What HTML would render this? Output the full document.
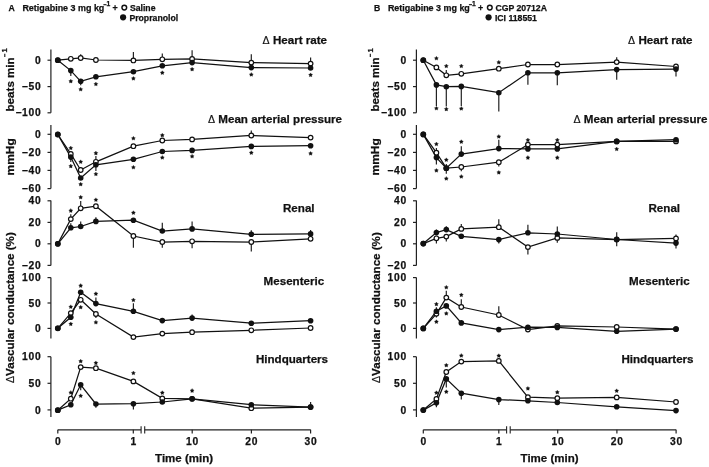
<!DOCTYPE html>
<html><head><meta charset="utf-8"><style>
html,body{margin:0;padding:0;background:#fff;width:709px;height:467px;overflow:hidden}
svg{display:block;will-change:transform}
text{font-family:"Liberation Sans", sans-serif;font-weight:bold;fill:#111;stroke:#111;stroke-width:0.25px}
</style></head><body>
<svg width="709" height="467" viewBox="0 0 709 467">
<rect width="709" height="467" fill="#fff"/>
<text x="8.50" y="10.80" font-size="8.7" text-anchor="start" >A</text>
<text x="22.40" y="10.80" font-size="8.95" text-anchor="start" >Retigabine 3 mg kg</text>
<line x1="103.40" y1="4.7" x2="106.50" y2="4.7" stroke="#111" stroke-width="1.1"/>
<text x="106.60" y="5.60" font-size="6.7" text-anchor="start" >1</text>
<text x="112.60" y="10.80" font-size="8.9" text-anchor="start" >+</text>
<circle cx="124.30" cy="7.6" r="2.35" fill="#fff" stroke="#111" stroke-width="1.45"/>
<text x="129.90" y="10.60" font-size="8.7" text-anchor="start" >Saline</text>
<circle cx="123.10" cy="17.3" r="3.1" fill="#111"/>
<text x="129.40" y="20.50" font-size="8.7" text-anchor="start" >Propranolol</text>
<line x1="50.90" y1="49.4" x2="50.90" y2="112.8" stroke="#222" stroke-width="1.2"/>
<line x1="47.50" y1="60.2" x2="50.90" y2="60.2" stroke="#222" stroke-width="1.2"/>
<text x="41.40" y="63.80" font-size="10.3" text-anchor="end" letter-spacing="0.7">0</text>
<line x1="47.50" y1="86.6" x2="50.90" y2="86.6" stroke="#222" stroke-width="1.2"/>
<text x="41.40" y="90.20" font-size="10.3" text-anchor="end" letter-spacing="0.7">−50</text>
<line x1="47.50" y1="112.8" x2="50.90" y2="112.8" stroke="#222" stroke-width="1.2"/>
<text x="41.40" y="116.40" font-size="10.3" text-anchor="end" letter-spacing="0.7">−100</text>
<line x1="50.90" y1="125.0" x2="50.90" y2="188.6" stroke="#222" stroke-width="1.2"/>
<line x1="47.50" y1="134.3" x2="50.90" y2="134.3" stroke="#222" stroke-width="1.2"/>
<text x="41.40" y="137.90" font-size="10.3" text-anchor="end" letter-spacing="0.7">0</text>
<line x1="47.50" y1="152.4" x2="50.90" y2="152.4" stroke="#222" stroke-width="1.2"/>
<text x="41.40" y="156.00" font-size="10.3" text-anchor="end" letter-spacing="0.7">−20</text>
<line x1="47.50" y1="170.4" x2="50.90" y2="170.4" stroke="#222" stroke-width="1.2"/>
<text x="41.40" y="174.00" font-size="10.3" text-anchor="end" letter-spacing="0.7">−40</text>
<line x1="47.50" y1="188.6" x2="50.90" y2="188.6" stroke="#222" stroke-width="1.2"/>
<text x="41.40" y="192.20" font-size="10.3" text-anchor="end" letter-spacing="0.7">−60</text>
<line x1="50.90" y1="200.6" x2="50.90" y2="265.4" stroke="#222" stroke-width="1.2"/>
<line x1="47.50" y1="200.8" x2="50.90" y2="200.8" stroke="#222" stroke-width="1.2"/>
<text x="41.40" y="204.40" font-size="10.3" text-anchor="end" letter-spacing="0.7">40</text>
<line x1="47.50" y1="222.4" x2="50.90" y2="222.4" stroke="#222" stroke-width="1.2"/>
<text x="41.40" y="226.00" font-size="10.3" text-anchor="end" letter-spacing="0.7">20</text>
<line x1="47.50" y1="243.8" x2="50.90" y2="243.8" stroke="#222" stroke-width="1.2"/>
<text x="41.40" y="247.40" font-size="10.3" text-anchor="end" letter-spacing="0.7">0</text>
<line x1="47.50" y1="265.4" x2="50.90" y2="265.4" stroke="#222" stroke-width="1.2"/>
<text x="41.40" y="269.00" font-size="10.3" text-anchor="end" letter-spacing="0.7">−20</text>
<line x1="50.90" y1="277.6" x2="50.90" y2="338.4" stroke="#222" stroke-width="1.2"/>
<line x1="47.50" y1="277.6" x2="50.90" y2="277.6" stroke="#222" stroke-width="1.2"/>
<text x="41.40" y="281.20" font-size="10.3" text-anchor="end" letter-spacing="0.7">100</text>
<line x1="47.50" y1="303.0" x2="50.90" y2="303.0" stroke="#222" stroke-width="1.2"/>
<text x="41.40" y="306.60" font-size="10.3" text-anchor="end" letter-spacing="0.7">50</text>
<line x1="47.50" y1="328.4" x2="50.90" y2="328.4" stroke="#222" stroke-width="1.2"/>
<text x="41.40" y="332.00" font-size="10.3" text-anchor="end" letter-spacing="0.7">0</text>
<line x1="50.90" y1="356.7" x2="50.90" y2="417.1" stroke="#222" stroke-width="1.2"/>
<line x1="47.50" y1="356.7" x2="50.90" y2="356.7" stroke="#222" stroke-width="1.2"/>
<text x="41.40" y="360.30" font-size="10.3" text-anchor="end" letter-spacing="0.7">100</text>
<line x1="47.50" y1="383.3" x2="50.90" y2="383.3" stroke="#222" stroke-width="1.2"/>
<text x="41.40" y="386.90" font-size="10.3" text-anchor="end" letter-spacing="0.7">50</text>
<line x1="47.50" y1="409.9" x2="50.90" y2="409.9" stroke="#222" stroke-width="1.2"/>
<text x="41.40" y="413.50" font-size="10.3" text-anchor="end" letter-spacing="0.7">0</text>
<text x="262.60" y="44.00" font-size="11.6" text-anchor="start" ><tspan font-weight="normal" font-size="10.6" stroke-width="0.2">Δ</tspan> Heart rate</text>
<text x="208.00" y="123.20" font-size="11.6" text-anchor="start" ><tspan font-weight="normal" font-size="10.6" stroke-width="0.2">Δ</tspan> Mean arterial pressure</text>
<text x="283.00" y="211.60" font-size="11.6" text-anchor="start" >Renal</text>
<text x="263.60" y="285.40" font-size="11.6" text-anchor="start" >Mesenteric</text>
<text x="255.90" y="363.10" font-size="11.6" text-anchor="start" >Hindquarters</text>
<text transform="translate(13.80,84.4) rotate(-90)" font-size="11.6" text-anchor="middle">beats min</text>
<line x1="4.80" y1="53.7" x2="4.80" y2="56.9" stroke="#111" stroke-width="1.1"/>
<text transform="translate(7.00,52.6) rotate(-90)" font-size="7.6">1</text>
<text transform="translate(13.50,156.8) rotate(-90) scale(1.1,1)" font-size="10.9" text-anchor="middle">mmHg</text>
<text transform="translate(14.40,307.6) rotate(-90)" font-size="11.6" text-anchor="middle"><tspan font-weight="normal" font-size="10.6" stroke-width="0.2">Δ</tspan>Vascular conductance (%)</text>
<line x1="57.80" y1="429.8" x2="141.10" y2="429.8" stroke="#222" stroke-width="1.2"/>
<line x1="144.70" y1="429.8" x2="310.70" y2="429.8" stroke="#222" stroke-width="1.2"/>
<line x1="141.10" y1="426.3" x2="141.10" y2="433.6" stroke="#222" stroke-width="1.1"/>
<line x1="144.70" y1="426.3" x2="144.70" y2="433.6" stroke="#222" stroke-width="1.1"/>
<line x1="57.80" y1="429.8" x2="57.80" y2="433.6" stroke="#222" stroke-width="1.2"/>
<text x="58.15" y="444.90" font-size="10.3" text-anchor="middle" letter-spacing="0.7">0</text>
<line x1="133.30" y1="429.8" x2="133.30" y2="433.6" stroke="#222" stroke-width="1.2"/>
<text x="133.65" y="444.90" font-size="10.3" text-anchor="middle" letter-spacing="0.7">1</text>
<line x1="192.20" y1="429.8" x2="192.20" y2="433.6" stroke="#222" stroke-width="1.2"/>
<text x="192.55" y="444.90" font-size="10.3" text-anchor="middle" letter-spacing="0.7">10</text>
<line x1="251.40" y1="429.8" x2="251.40" y2="433.6" stroke="#222" stroke-width="1.2"/>
<text x="251.75" y="444.90" font-size="10.3" text-anchor="middle" letter-spacing="0.7">20</text>
<line x1="310.60" y1="429.8" x2="310.60" y2="433.6" stroke="#222" stroke-width="1.2"/>
<text x="310.95" y="444.90" font-size="10.3" text-anchor="middle" letter-spacing="0.7">30</text>
<text x="155.10" y="462.10" font-size="11.5" text-anchor="start" >Time (min)</text>
<path d="M57.80,60.20 L70.80,58.80 L80.70,58.00 L95.90,60.00 L133.40,60.45 L162.30,59.30 L192.10,59.00 L251.30,62.60 L310.60,63.60" fill="none" stroke="#111" stroke-width="1.25"/>
<path d="M57.80,60.20 L70.80,70.60 L80.70,81.30 L95.90,76.80 L133.40,71.70 L162.30,65.80 L192.10,62.60 L251.30,67.60 L310.60,68.00" fill="none" stroke="#111" stroke-width="1.25"/>
<line x1="80.70" y1="58.00" x2="80.70" y2="54.30" stroke="#222" stroke-width="1.2"/>
<line x1="133.40" y1="60.45" x2="133.40" y2="52.00" stroke="#222" stroke-width="1.2"/>
<line x1="162.30" y1="59.30" x2="162.30" y2="53.40" stroke="#222" stroke-width="1.2"/>
<line x1="192.10" y1="59.00" x2="192.10" y2="50.20" stroke="#222" stroke-width="1.2"/>
<line x1="251.30" y1="62.60" x2="251.30" y2="54.20" stroke="#222" stroke-width="1.2"/>
<line x1="310.60" y1="63.60" x2="310.60" y2="57.40" stroke="#222" stroke-width="1.2"/>
<line x1="70.80" y1="70.60" x2="70.80" y2="76.00" stroke="#222" stroke-width="1.2"/>
<line x1="80.70" y1="81.30" x2="80.70" y2="85.20" stroke="#222" stroke-width="1.2"/>
<circle cx="57.80" cy="60.20" r="2.3" fill="#fff" stroke="#111" stroke-width="1.2"/>
<circle cx="70.80" cy="58.80" r="2.3" fill="#fff" stroke="#111" stroke-width="1.2"/>
<circle cx="80.70" cy="58.00" r="2.3" fill="#fff" stroke="#111" stroke-width="1.2"/>
<circle cx="95.90" cy="60.00" r="2.3" fill="#fff" stroke="#111" stroke-width="1.2"/>
<circle cx="133.40" cy="60.45" r="2.3" fill="#fff" stroke="#111" stroke-width="1.2"/>
<circle cx="162.30" cy="59.30" r="2.3" fill="#fff" stroke="#111" stroke-width="1.2"/>
<circle cx="192.10" cy="59.00" r="2.3" fill="#fff" stroke="#111" stroke-width="1.2"/>
<circle cx="251.30" cy="62.60" r="2.3" fill="#fff" stroke="#111" stroke-width="1.2"/>
<circle cx="310.60" cy="63.60" r="2.3" fill="#fff" stroke="#111" stroke-width="1.2"/>
<circle cx="57.80" cy="60.20" r="2.8" fill="#111"/>
<circle cx="70.80" cy="70.60" r="2.8" fill="#111"/>
<circle cx="80.70" cy="81.30" r="2.8" fill="#111"/>
<circle cx="95.90" cy="76.80" r="2.8" fill="#111"/>
<circle cx="133.40" cy="71.70" r="2.8" fill="#111"/>
<circle cx="162.30" cy="65.80" r="2.8" fill="#111"/>
<circle cx="192.10" cy="62.60" r="2.8" fill="#111"/>
<circle cx="251.30" cy="67.60" r="2.8" fill="#111"/>
<circle cx="310.60" cy="68.00" r="2.8" fill="#111"/>
<polygon points="70.80,79.20 71.49,80.35 72.80,80.65 71.92,81.66 72.03,83.00 70.80,82.48 69.57,83.00 69.68,81.66 68.80,80.65 70.11,80.35" fill="#111" stroke="#111" stroke-width="0.3" stroke-linejoin="round"/>
<polygon points="80.70,87.30 81.39,88.45 82.70,88.75 81.82,89.76 81.93,91.10 80.70,90.58 79.47,91.10 79.58,89.76 78.70,88.75 80.01,88.45" fill="#111" stroke="#111" stroke-width="0.3" stroke-linejoin="round"/>
<polygon points="95.90,82.05 96.59,83.20 97.90,83.50 97.02,84.51 97.13,85.85 95.90,85.33 94.67,85.85 94.78,84.51 93.90,83.50 95.21,83.20" fill="#111" stroke="#111" stroke-width="0.3" stroke-linejoin="round"/>
<polygon points="133.40,76.40 134.09,77.55 135.40,77.85 134.52,78.86 134.63,80.20 133.40,79.68 132.17,80.20 132.28,78.86 131.40,77.85 132.71,77.55" fill="#111" stroke="#111" stroke-width="0.3" stroke-linejoin="round"/>
<polygon points="162.30,70.70 162.99,71.85 164.30,72.15 163.42,73.16 163.53,74.50 162.30,73.98 161.07,74.50 161.18,73.16 160.30,72.15 161.61,71.85" fill="#111" stroke="#111" stroke-width="0.3" stroke-linejoin="round"/>
<polygon points="192.10,67.20 192.79,68.35 194.10,68.65 193.22,69.66 193.33,71.00 192.10,70.48 190.87,71.00 190.98,69.66 190.10,68.65 191.41,68.35" fill="#111" stroke="#111" stroke-width="0.3" stroke-linejoin="round"/>
<polygon points="251.30,72.50 251.99,73.65 253.30,73.95 252.42,74.96 252.53,76.30 251.30,75.78 250.07,76.30 250.18,74.96 249.30,73.95 250.61,73.65" fill="#111" stroke="#111" stroke-width="0.3" stroke-linejoin="round"/>
<polygon points="310.60,72.90 311.29,74.05 312.60,74.35 311.72,75.36 311.83,76.70 310.60,76.18 309.37,76.70 309.48,75.36 308.60,74.35 309.91,74.05" fill="#111" stroke="#111" stroke-width="0.3" stroke-linejoin="round"/>
<path d="M57.80,134.50 L70.80,153.90 L80.70,170.00 L95.90,161.80 L133.40,146.20 L162.30,140.50 L192.10,139.40 L251.30,135.50 L310.60,137.60" fill="none" stroke="#111" stroke-width="1.25"/>
<path d="M57.80,134.50 L70.80,157.10 L80.70,178.00 L95.90,164.80 L133.40,159.30 L162.30,151.50 L192.10,150.40 L251.30,146.40 L310.60,145.70" fill="none" stroke="#111" stroke-width="1.25"/>
<line x1="95.90" y1="161.80" x2="95.90" y2="156.00" stroke="#222" stroke-width="1.2"/>
<line x1="251.30" y1="135.50" x2="251.30" y2="130.60" stroke="#222" stroke-width="1.2"/>
<line x1="70.80" y1="157.10" x2="70.80" y2="162.00" stroke="#222" stroke-width="1.2"/>
<line x1="95.90" y1="164.80" x2="95.90" y2="171.00" stroke="#222" stroke-width="1.2"/>
<circle cx="57.80" cy="134.50" r="2.3" fill="#fff" stroke="#111" stroke-width="1.2"/>
<circle cx="70.80" cy="153.90" r="2.3" fill="#fff" stroke="#111" stroke-width="1.2"/>
<circle cx="80.70" cy="170.00" r="2.3" fill="#fff" stroke="#111" stroke-width="1.2"/>
<circle cx="95.90" cy="161.80" r="2.3" fill="#fff" stroke="#111" stroke-width="1.2"/>
<circle cx="133.40" cy="146.20" r="2.3" fill="#fff" stroke="#111" stroke-width="1.2"/>
<circle cx="162.30" cy="140.50" r="2.3" fill="#fff" stroke="#111" stroke-width="1.2"/>
<circle cx="192.10" cy="139.40" r="2.3" fill="#fff" stroke="#111" stroke-width="1.2"/>
<circle cx="251.30" cy="135.50" r="2.3" fill="#fff" stroke="#111" stroke-width="1.2"/>
<circle cx="310.60" cy="137.60" r="2.3" fill="#fff" stroke="#111" stroke-width="1.2"/>
<circle cx="57.80" cy="134.50" r="2.8" fill="#111"/>
<circle cx="70.80" cy="157.10" r="2.8" fill="#111"/>
<circle cx="80.70" cy="178.00" r="2.8" fill="#111"/>
<circle cx="95.90" cy="164.80" r="2.8" fill="#111"/>
<circle cx="133.40" cy="159.30" r="2.8" fill="#111"/>
<circle cx="162.30" cy="151.50" r="2.8" fill="#111"/>
<circle cx="192.10" cy="150.40" r="2.8" fill="#111"/>
<circle cx="251.30" cy="146.40" r="2.8" fill="#111"/>
<circle cx="310.60" cy="145.70" r="2.8" fill="#111"/>
<polygon points="70.80,146.00 71.49,147.15 72.80,147.45 71.92,148.46 72.03,149.80 70.80,149.28 69.57,149.80 69.68,148.46 68.80,147.45 70.11,147.15" fill="#111" stroke="#111" stroke-width="0.3" stroke-linejoin="round"/>
<polygon points="80.70,159.80 81.39,160.95 82.70,161.25 81.82,162.26 81.93,163.60 80.70,163.08 79.47,163.60 79.58,162.26 78.70,161.25 80.01,160.95" fill="#111" stroke="#111" stroke-width="0.3" stroke-linejoin="round"/>
<polygon points="95.90,151.10 96.59,152.25 97.90,152.55 97.02,153.56 97.13,154.90 95.90,154.38 94.67,154.90 94.78,153.56 93.90,152.55 95.21,152.25" fill="#111" stroke="#111" stroke-width="0.3" stroke-linejoin="round"/>
<polygon points="133.40,136.30 134.09,137.45 135.40,137.75 134.52,138.76 134.63,140.10 133.40,139.58 132.17,140.10 132.28,138.76 131.40,137.75 132.71,137.45" fill="#111" stroke="#111" stroke-width="0.3" stroke-linejoin="round"/>
<polygon points="162.30,133.20 162.99,134.35 164.30,134.65 163.42,135.66 163.53,137.00 162.30,136.48 161.07,137.00 161.18,135.66 160.30,134.65 161.61,134.35" fill="#111" stroke="#111" stroke-width="0.3" stroke-linejoin="round"/>
<polygon points="70.80,164.10 71.49,165.25 72.80,165.55 71.92,166.56 72.03,167.90 70.80,167.38 69.57,167.90 69.68,166.56 68.80,165.55 70.11,165.25" fill="#111" stroke="#111" stroke-width="0.3" stroke-linejoin="round"/>
<polygon points="80.70,182.20 81.39,183.35 82.70,183.65 81.82,184.66 81.93,186.00 80.70,185.48 79.47,186.00 79.58,184.66 78.70,183.65 80.01,183.35" fill="#111" stroke="#111" stroke-width="0.3" stroke-linejoin="round"/>
<polygon points="95.90,172.00 96.59,173.15 97.90,173.45 97.02,174.46 97.13,175.80 95.90,175.28 94.67,175.80 94.78,174.46 93.90,173.45 95.21,173.15" fill="#111" stroke="#111" stroke-width="0.3" stroke-linejoin="round"/>
<polygon points="133.40,165.30 134.09,166.45 135.40,166.75 134.52,167.76 134.63,169.10 133.40,168.58 132.17,169.10 132.28,167.76 131.40,166.75 132.71,166.45" fill="#111" stroke="#111" stroke-width="0.3" stroke-linejoin="round"/>
<polygon points="162.30,155.50 162.99,156.65 164.30,156.95 163.42,157.96 163.53,159.30 162.30,158.78 161.07,159.30 161.18,157.96 160.30,156.95 161.61,156.65" fill="#111" stroke="#111" stroke-width="0.3" stroke-linejoin="round"/>
<polygon points="192.10,154.30 192.79,155.45 194.10,155.75 193.22,156.76 193.33,158.10 192.10,157.58 190.87,158.10 190.98,156.76 190.10,155.75 191.41,155.45" fill="#111" stroke="#111" stroke-width="0.3" stroke-linejoin="round"/>
<polygon points="251.30,150.70 251.99,151.85 253.30,152.15 252.42,153.16 252.53,154.50 251.30,153.98 250.07,154.50 250.18,153.16 249.30,152.15 250.61,151.85" fill="#111" stroke="#111" stroke-width="0.3" stroke-linejoin="round"/>
<polygon points="310.60,151.40 311.29,152.55 312.60,152.85 311.72,153.86 311.83,155.20 310.60,154.68 309.37,155.20 309.48,153.86 308.60,152.85 309.91,152.55" fill="#111" stroke="#111" stroke-width="0.3" stroke-linejoin="round"/>
<path d="M57.80,243.80 L70.80,219.10 L80.70,208.30 L95.90,206.20 L133.40,236.00 L162.30,242.00 L192.10,241.30 L251.30,242.00 L310.60,238.80" fill="none" stroke="#111" stroke-width="1.25"/>
<path d="M57.80,243.80 L70.80,227.80 L80.70,226.50 L95.90,221.40 L133.40,220.20 L162.30,231.00 L192.10,228.90 L251.30,234.30 L310.60,233.90" fill="none" stroke="#111" stroke-width="1.25"/>
<line x1="70.80" y1="219.10" x2="70.80" y2="214.20" stroke="#222" stroke-width="1.2"/>
<line x1="80.70" y1="208.30" x2="80.70" y2="201.00" stroke="#222" stroke-width="1.2"/>
<line x1="133.40" y1="236.00" x2="133.40" y2="247.70" stroke="#222" stroke-width="1.2"/>
<line x1="162.30" y1="242.00" x2="162.30" y2="247.70" stroke="#222" stroke-width="1.2"/>
<line x1="192.10" y1="241.30" x2="192.10" y2="248.20" stroke="#222" stroke-width="1.2"/>
<line x1="251.30" y1="242.00" x2="251.30" y2="251.50" stroke="#222" stroke-width="1.2"/>
<line x1="70.80" y1="227.80" x2="70.80" y2="223.20" stroke="#222" stroke-width="1.2"/>
<line x1="80.70" y1="226.50" x2="80.70" y2="221.40" stroke="#222" stroke-width="1.2"/>
<line x1="95.90" y1="221.40" x2="95.90" y2="217.20" stroke="#222" stroke-width="1.2"/>
<line x1="162.30" y1="231.00" x2="162.30" y2="222.80" stroke="#222" stroke-width="1.2"/>
<line x1="192.10" y1="228.90" x2="192.10" y2="221.40" stroke="#222" stroke-width="1.2"/>
<line x1="251.30" y1="234.30" x2="251.30" y2="230.30" stroke="#222" stroke-width="1.2"/>
<line x1="310.60" y1="233.90" x2="310.60" y2="229.90" stroke="#222" stroke-width="1.2"/>
<circle cx="57.80" cy="243.80" r="2.3" fill="#fff" stroke="#111" stroke-width="1.2"/>
<circle cx="70.80" cy="219.10" r="2.3" fill="#fff" stroke="#111" stroke-width="1.2"/>
<circle cx="80.70" cy="208.30" r="2.3" fill="#fff" stroke="#111" stroke-width="1.2"/>
<circle cx="95.90" cy="206.20" r="2.3" fill="#fff" stroke="#111" stroke-width="1.2"/>
<circle cx="133.40" cy="236.00" r="2.3" fill="#fff" stroke="#111" stroke-width="1.2"/>
<circle cx="162.30" cy="242.00" r="2.3" fill="#fff" stroke="#111" stroke-width="1.2"/>
<circle cx="192.10" cy="241.30" r="2.3" fill="#fff" stroke="#111" stroke-width="1.2"/>
<circle cx="251.30" cy="242.00" r="2.3" fill="#fff" stroke="#111" stroke-width="1.2"/>
<circle cx="310.60" cy="238.80" r="2.3" fill="#fff" stroke="#111" stroke-width="1.2"/>
<circle cx="57.80" cy="243.80" r="2.8" fill="#111"/>
<circle cx="70.80" cy="227.80" r="2.8" fill="#111"/>
<circle cx="80.70" cy="226.50" r="2.8" fill="#111"/>
<circle cx="95.90" cy="221.40" r="2.8" fill="#111"/>
<circle cx="133.40" cy="220.20" r="2.8" fill="#111"/>
<circle cx="162.30" cy="231.00" r="2.8" fill="#111"/>
<circle cx="192.10" cy="228.90" r="2.8" fill="#111"/>
<circle cx="251.30" cy="234.30" r="2.8" fill="#111"/>
<circle cx="310.60" cy="233.90" r="2.8" fill="#111"/>
<polygon points="70.80,208.60 71.49,209.75 72.80,210.05 71.92,211.06 72.03,212.40 70.80,211.88 69.57,212.40 69.68,211.06 68.80,210.05 70.11,209.75" fill="#111" stroke="#111" stroke-width="0.3" stroke-linejoin="round"/>
<polygon points="80.70,195.20 81.39,196.35 82.70,196.65 81.82,197.66 81.93,199.00 80.70,198.48 79.47,199.00 79.58,197.66 78.70,196.65 80.01,196.35" fill="#111" stroke="#111" stroke-width="0.3" stroke-linejoin="round"/>
<polygon points="95.90,197.80 96.59,198.95 97.90,199.25 97.02,200.26 97.13,201.60 95.90,201.08 94.67,201.60 94.78,200.26 93.90,199.25 95.21,198.95" fill="#111" stroke="#111" stroke-width="0.3" stroke-linejoin="round"/>
<polygon points="133.40,210.70 134.09,211.85 135.40,212.15 134.52,213.16 134.63,214.50 133.40,213.98 132.17,214.50 132.28,213.16 131.40,212.15 132.71,211.85" fill="#111" stroke="#111" stroke-width="0.3" stroke-linejoin="round"/>
<path d="M57.80,328.30 L70.80,313.10 L80.70,299.80 L95.90,314.00 L133.40,337.10 L162.30,333.60 L192.10,332.20 L251.30,330.30 L310.60,328.00" fill="none" stroke="#111" stroke-width="1.25"/>
<path d="M57.80,328.30 L70.80,317.30 L80.70,292.30 L95.90,303.60 L133.40,311.30 L162.30,320.60 L192.10,318.10 L251.30,323.20 L310.60,320.70" fill="none" stroke="#111" stroke-width="1.25"/>
<line x1="95.90" y1="314.00" x2="95.90" y2="318.00" stroke="#222" stroke-width="1.2"/>
<line x1="95.90" y1="303.60" x2="95.90" y2="297.40" stroke="#222" stroke-width="1.2"/>
<line x1="133.40" y1="311.30" x2="133.40" y2="303.30" stroke="#222" stroke-width="1.2"/>
<line x1="192.10" y1="318.10" x2="192.10" y2="314.60" stroke="#222" stroke-width="1.2"/>
<circle cx="57.80" cy="328.30" r="2.3" fill="#fff" stroke="#111" stroke-width="1.2"/>
<circle cx="70.80" cy="313.10" r="2.3" fill="#fff" stroke="#111" stroke-width="1.2"/>
<circle cx="80.70" cy="299.80" r="2.3" fill="#fff" stroke="#111" stroke-width="1.2"/>
<circle cx="95.90" cy="314.00" r="2.3" fill="#fff" stroke="#111" stroke-width="1.2"/>
<circle cx="133.40" cy="337.10" r="2.3" fill="#fff" stroke="#111" stroke-width="1.2"/>
<circle cx="162.30" cy="333.60" r="2.3" fill="#fff" stroke="#111" stroke-width="1.2"/>
<circle cx="192.10" cy="332.20" r="2.3" fill="#fff" stroke="#111" stroke-width="1.2"/>
<circle cx="251.30" cy="330.30" r="2.3" fill="#fff" stroke="#111" stroke-width="1.2"/>
<circle cx="310.60" cy="328.00" r="2.3" fill="#fff" stroke="#111" stroke-width="1.2"/>
<circle cx="57.80" cy="328.30" r="2.8" fill="#111"/>
<circle cx="70.80" cy="317.30" r="2.8" fill="#111"/>
<circle cx="80.70" cy="292.30" r="2.8" fill="#111"/>
<circle cx="95.90" cy="303.60" r="2.8" fill="#111"/>
<circle cx="133.40" cy="311.30" r="2.8" fill="#111"/>
<circle cx="162.30" cy="320.60" r="2.8" fill="#111"/>
<circle cx="192.10" cy="318.10" r="2.8" fill="#111"/>
<circle cx="251.30" cy="323.20" r="2.8" fill="#111"/>
<circle cx="310.60" cy="320.70" r="2.8" fill="#111"/>
<polygon points="70.80,304.80 71.49,305.95 72.80,306.25 71.92,307.26 72.03,308.60 70.80,308.08 69.57,308.60 69.68,307.26 68.80,306.25 70.11,305.95" fill="#111" stroke="#111" stroke-width="0.3" stroke-linejoin="round"/>
<polygon points="80.70,305.20 81.39,306.35 82.70,306.65 81.82,307.66 81.93,309.00 80.70,308.48 79.47,309.00 79.58,307.66 78.70,306.65 80.01,306.35" fill="#111" stroke="#111" stroke-width="0.3" stroke-linejoin="round"/>
<polygon points="95.90,320.30 96.59,321.45 97.90,321.75 97.02,322.76 97.13,324.10 95.90,323.58 94.67,324.10 94.78,322.76 93.90,321.75 95.21,321.45" fill="#111" stroke="#111" stroke-width="0.3" stroke-linejoin="round"/>
<polygon points="70.80,321.90 71.49,323.05 72.80,323.35 71.92,324.36 72.03,325.70 70.80,325.18 69.57,325.70 69.68,324.36 68.80,323.35 70.11,323.05" fill="#111" stroke="#111" stroke-width="0.3" stroke-linejoin="round"/>
<polygon points="80.70,283.60 81.39,284.75 82.70,285.05 81.82,286.06 81.93,287.40 80.70,286.88 79.47,287.40 79.58,286.06 78.70,285.05 80.01,284.75" fill="#111" stroke="#111" stroke-width="0.3" stroke-linejoin="round"/>
<polygon points="95.90,291.70 96.59,292.85 97.90,293.15 97.02,294.16 97.13,295.50 95.90,294.98 94.67,295.50 94.78,294.16 93.90,293.15 95.21,292.85" fill="#111" stroke="#111" stroke-width="0.3" stroke-linejoin="round"/>
<polygon points="133.40,298.00 134.09,299.15 135.40,299.45 134.52,300.46 134.63,301.80 133.40,301.28 132.17,301.80 132.28,300.46 131.40,299.45 132.71,299.15" fill="#111" stroke="#111" stroke-width="0.3" stroke-linejoin="round"/>
<path d="M57.80,410.20 L70.80,398.70 L80.70,367.10 L95.90,368.20 L133.40,381.40 L162.30,398.40 L192.10,398.80 L251.30,408.20 L310.60,407.10" fill="none" stroke="#111" stroke-width="1.25"/>
<path d="M57.80,410.20 L70.80,404.80 L80.70,384.80 L95.90,404.00 L133.40,403.70 L162.30,402.00 L192.10,398.80 L251.30,404.70 L310.60,407.10" fill="none" stroke="#111" stroke-width="1.25"/>
<line x1="80.70" y1="384.80" x2="80.70" y2="390.30" stroke="#222" stroke-width="1.2"/>
<line x1="95.90" y1="404.00" x2="95.90" y2="407.70" stroke="#222" stroke-width="1.2"/>
<line x1="133.40" y1="403.70" x2="133.40" y2="409.40" stroke="#222" stroke-width="1.2"/>
<line x1="310.60" y1="407.10" x2="310.60" y2="402.00" stroke="#222" stroke-width="1.2"/>
<circle cx="57.80" cy="410.20" r="2.3" fill="#fff" stroke="#111" stroke-width="1.2"/>
<circle cx="70.80" cy="398.70" r="2.3" fill="#fff" stroke="#111" stroke-width="1.2"/>
<circle cx="80.70" cy="367.10" r="2.3" fill="#fff" stroke="#111" stroke-width="1.2"/>
<circle cx="95.90" cy="368.20" r="2.3" fill="#fff" stroke="#111" stroke-width="1.2"/>
<circle cx="133.40" cy="381.40" r="2.3" fill="#fff" stroke="#111" stroke-width="1.2"/>
<circle cx="162.30" cy="398.40" r="2.3" fill="#fff" stroke="#111" stroke-width="1.2"/>
<circle cx="192.10" cy="398.80" r="2.3" fill="#fff" stroke="#111" stroke-width="1.2"/>
<circle cx="251.30" cy="408.20" r="2.3" fill="#fff" stroke="#111" stroke-width="1.2"/>
<circle cx="310.60" cy="407.10" r="2.3" fill="#fff" stroke="#111" stroke-width="1.2"/>
<circle cx="57.80" cy="410.20" r="2.8" fill="#111"/>
<circle cx="70.80" cy="404.80" r="2.8" fill="#111"/>
<circle cx="80.70" cy="384.80" r="2.8" fill="#111"/>
<circle cx="95.90" cy="404.00" r="2.8" fill="#111"/>
<circle cx="133.40" cy="403.70" r="2.8" fill="#111"/>
<circle cx="162.30" cy="402.00" r="2.8" fill="#111"/>
<circle cx="192.10" cy="398.80" r="2.8" fill="#111"/>
<circle cx="251.30" cy="404.70" r="2.8" fill="#111"/>
<circle cx="310.60" cy="407.10" r="2.8" fill="#111"/>
<polygon points="70.80,390.50 71.49,391.65 72.80,391.95 71.92,392.96 72.03,394.30 70.80,393.78 69.57,394.30 69.68,392.96 68.80,391.95 70.11,391.65" fill="#111" stroke="#111" stroke-width="0.3" stroke-linejoin="round"/>
<polygon points="80.70,359.20 81.39,360.35 82.70,360.65 81.82,361.66 81.93,363.00 80.70,362.48 79.47,363.00 79.58,361.66 78.70,360.65 80.01,360.35" fill="#111" stroke="#111" stroke-width="0.3" stroke-linejoin="round"/>
<polygon points="95.90,360.90 96.59,362.05 97.90,362.35 97.02,363.36 97.13,364.70 95.90,364.18 94.67,364.70 94.78,363.36 93.90,362.35 95.21,362.05" fill="#111" stroke="#111" stroke-width="0.3" stroke-linejoin="round"/>
<polygon points="133.40,371.00 134.09,372.15 135.40,372.45 134.52,373.46 134.63,374.80 133.40,374.28 132.17,374.80 132.28,373.46 131.40,372.45 132.71,372.15" fill="#111" stroke="#111" stroke-width="0.3" stroke-linejoin="round"/>
<polygon points="162.30,390.70 162.99,391.85 164.30,392.15 163.42,393.16 163.53,394.50 162.30,393.98 161.07,394.50 161.18,393.16 160.30,392.15 161.61,391.85" fill="#111" stroke="#111" stroke-width="0.3" stroke-linejoin="round"/>
<polygon points="192.10,388.60 192.79,389.75 194.10,390.05 193.22,391.06 193.33,392.40 192.10,391.88 190.87,392.40 190.98,391.06 190.10,390.05 191.41,389.75" fill="#111" stroke="#111" stroke-width="0.3" stroke-linejoin="round"/>
<polygon points="80.70,393.80 81.39,394.95 82.70,395.25 81.82,396.26 81.93,397.60 80.70,397.08 79.47,397.60 79.58,396.26 78.70,395.25 80.01,394.95" fill="#111" stroke="#111" stroke-width="0.3" stroke-linejoin="round"/>
<text x="374.00" y="10.80" font-size="8.7" text-anchor="start" >B</text>
<text x="387.90" y="10.80" font-size="8.95" text-anchor="start" >Retigabine 3 mg kg</text>
<line x1="468.90" y1="4.7" x2="472.00" y2="4.7" stroke="#111" stroke-width="1.1"/>
<text x="472.10" y="5.60" font-size="6.7" text-anchor="start" >1</text>
<text x="478.10" y="10.80" font-size="8.9" text-anchor="start" >+</text>
<circle cx="489.80" cy="7.6" r="2.35" fill="#fff" stroke="#111" stroke-width="1.45"/>
<text x="495.40" y="10.60" font-size="8.7" text-anchor="start" >CGP 20712A</text>
<circle cx="488.60" cy="17.3" r="3.1" fill="#111"/>
<text x="494.90" y="20.50" font-size="8.7" text-anchor="start" >ICI 118551</text>
<line x1="416.40" y1="49.4" x2="416.40" y2="112.8" stroke="#222" stroke-width="1.2"/>
<line x1="413.00" y1="60.2" x2="416.40" y2="60.2" stroke="#222" stroke-width="1.2"/>
<text x="406.90" y="63.80" font-size="10.3" text-anchor="end" letter-spacing="0.7">0</text>
<line x1="413.00" y1="86.6" x2="416.40" y2="86.6" stroke="#222" stroke-width="1.2"/>
<text x="406.90" y="90.20" font-size="10.3" text-anchor="end" letter-spacing="0.7">−50</text>
<line x1="413.00" y1="112.8" x2="416.40" y2="112.8" stroke="#222" stroke-width="1.2"/>
<text x="406.90" y="116.40" font-size="10.3" text-anchor="end" letter-spacing="0.7">−100</text>
<line x1="416.40" y1="125.0" x2="416.40" y2="188.6" stroke="#222" stroke-width="1.2"/>
<line x1="413.00" y1="134.3" x2="416.40" y2="134.3" stroke="#222" stroke-width="1.2"/>
<text x="406.90" y="137.90" font-size="10.3" text-anchor="end" letter-spacing="0.7">0</text>
<line x1="413.00" y1="152.4" x2="416.40" y2="152.4" stroke="#222" stroke-width="1.2"/>
<text x="406.90" y="156.00" font-size="10.3" text-anchor="end" letter-spacing="0.7">−20</text>
<line x1="413.00" y1="170.4" x2="416.40" y2="170.4" stroke="#222" stroke-width="1.2"/>
<text x="406.90" y="174.00" font-size="10.3" text-anchor="end" letter-spacing="0.7">−40</text>
<line x1="413.00" y1="188.6" x2="416.40" y2="188.6" stroke="#222" stroke-width="1.2"/>
<text x="406.90" y="192.20" font-size="10.3" text-anchor="end" letter-spacing="0.7">−60</text>
<line x1="416.40" y1="200.6" x2="416.40" y2="265.4" stroke="#222" stroke-width="1.2"/>
<line x1="413.00" y1="200.8" x2="416.40" y2="200.8" stroke="#222" stroke-width="1.2"/>
<text x="406.90" y="204.40" font-size="10.3" text-anchor="end" letter-spacing="0.7">40</text>
<line x1="413.00" y1="222.4" x2="416.40" y2="222.4" stroke="#222" stroke-width="1.2"/>
<text x="406.90" y="226.00" font-size="10.3" text-anchor="end" letter-spacing="0.7">20</text>
<line x1="413.00" y1="243.8" x2="416.40" y2="243.8" stroke="#222" stroke-width="1.2"/>
<text x="406.90" y="247.40" font-size="10.3" text-anchor="end" letter-spacing="0.7">0</text>
<line x1="413.00" y1="265.4" x2="416.40" y2="265.4" stroke="#222" stroke-width="1.2"/>
<text x="406.90" y="269.00" font-size="10.3" text-anchor="end" letter-spacing="0.7">−20</text>
<line x1="416.40" y1="277.6" x2="416.40" y2="338.4" stroke="#222" stroke-width="1.2"/>
<line x1="413.00" y1="277.6" x2="416.40" y2="277.6" stroke="#222" stroke-width="1.2"/>
<text x="406.90" y="281.20" font-size="10.3" text-anchor="end" letter-spacing="0.7">100</text>
<line x1="413.00" y1="303.0" x2="416.40" y2="303.0" stroke="#222" stroke-width="1.2"/>
<text x="406.90" y="306.60" font-size="10.3" text-anchor="end" letter-spacing="0.7">50</text>
<line x1="413.00" y1="328.4" x2="416.40" y2="328.4" stroke="#222" stroke-width="1.2"/>
<text x="406.90" y="332.00" font-size="10.3" text-anchor="end" letter-spacing="0.7">0</text>
<line x1="416.40" y1="356.7" x2="416.40" y2="417.1" stroke="#222" stroke-width="1.2"/>
<line x1="413.00" y1="356.7" x2="416.40" y2="356.7" stroke="#222" stroke-width="1.2"/>
<text x="406.90" y="360.30" font-size="10.3" text-anchor="end" letter-spacing="0.7">100</text>
<line x1="413.00" y1="383.3" x2="416.40" y2="383.3" stroke="#222" stroke-width="1.2"/>
<text x="406.90" y="386.90" font-size="10.3" text-anchor="end" letter-spacing="0.7">50</text>
<line x1="413.00" y1="409.9" x2="416.40" y2="409.9" stroke="#222" stroke-width="1.2"/>
<text x="406.90" y="413.50" font-size="10.3" text-anchor="end" letter-spacing="0.7">0</text>
<text x="628.10" y="44.00" font-size="11.6" text-anchor="start" ><tspan font-weight="normal" font-size="10.6" stroke-width="0.2">Δ</tspan> Heart rate</text>
<text x="573.50" y="123.20" font-size="11.6" text-anchor="start" ><tspan font-weight="normal" font-size="10.6" stroke-width="0.2">Δ</tspan> Mean arterial pressure</text>
<text x="648.50" y="211.60" font-size="11.6" text-anchor="start" >Renal</text>
<text x="629.10" y="285.40" font-size="11.6" text-anchor="start" >Mesenteric</text>
<text x="621.40" y="363.10" font-size="11.6" text-anchor="start" >Hindquarters</text>
<text transform="translate(379.30,84.4) rotate(-90)" font-size="11.6" text-anchor="middle">beats min</text>
<line x1="370.30" y1="53.7" x2="370.30" y2="56.9" stroke="#111" stroke-width="1.1"/>
<text transform="translate(372.50,52.6) rotate(-90)" font-size="7.6">1</text>
<text transform="translate(379.00,156.8) rotate(-90) scale(1.1,1)" font-size="10.9" text-anchor="middle">mmHg</text>
<text transform="translate(379.90,307.6) rotate(-90)" font-size="11.6" text-anchor="middle"><tspan font-weight="normal" font-size="10.6" stroke-width="0.2">Δ</tspan>Vascular conductance (%)</text>
<line x1="423.30" y1="429.8" x2="506.60" y2="429.8" stroke="#222" stroke-width="1.2"/>
<line x1="510.20" y1="429.8" x2="676.20" y2="429.8" stroke="#222" stroke-width="1.2"/>
<line x1="506.60" y1="426.3" x2="506.60" y2="433.6" stroke="#222" stroke-width="1.1"/>
<line x1="510.20" y1="426.3" x2="510.20" y2="433.6" stroke="#222" stroke-width="1.1"/>
<line x1="423.30" y1="429.8" x2="423.30" y2="433.6" stroke="#222" stroke-width="1.2"/>
<text x="423.65" y="444.90" font-size="10.3" text-anchor="middle" letter-spacing="0.7">0</text>
<line x1="498.80" y1="429.8" x2="498.80" y2="433.6" stroke="#222" stroke-width="1.2"/>
<text x="499.15" y="444.90" font-size="10.3" text-anchor="middle" letter-spacing="0.7">1</text>
<line x1="557.70" y1="429.8" x2="557.70" y2="433.6" stroke="#222" stroke-width="1.2"/>
<text x="558.05" y="444.90" font-size="10.3" text-anchor="middle" letter-spacing="0.7">10</text>
<line x1="616.90" y1="429.8" x2="616.90" y2="433.6" stroke="#222" stroke-width="1.2"/>
<text x="617.25" y="444.90" font-size="10.3" text-anchor="middle" letter-spacing="0.7">20</text>
<line x1="676.10" y1="429.8" x2="676.10" y2="433.6" stroke="#222" stroke-width="1.2"/>
<text x="676.45" y="444.90" font-size="10.3" text-anchor="middle" letter-spacing="0.7">30</text>
<text x="520.60" y="462.10" font-size="11.5" text-anchor="start" >Time (min)</text>
<path d="M423.30,60.20 L436.40,67.40 L446.30,75.30 L461.30,73.80 L498.80,68.70 L527.90,64.50 L557.30,64.50 L616.70,62.10 L676.00,66.50" fill="none" stroke="#111" stroke-width="1.25"/>
<path d="M423.30,60.20 L436.40,84.90 L446.30,86.70 L461.30,86.40 L498.80,92.70 L527.90,72.80 L557.30,72.80 L616.70,69.60 L676.00,69.10" fill="none" stroke="#111" stroke-width="1.25"/>
<line x1="446.30" y1="75.30" x2="446.30" y2="70.00" stroke="#222" stroke-width="1.2"/>
<line x1="616.70" y1="62.10" x2="616.70" y2="57.20" stroke="#222" stroke-width="1.2"/>
<line x1="436.40" y1="84.90" x2="436.40" y2="106.00" stroke="#222" stroke-width="1.2"/>
<line x1="446.30" y1="86.70" x2="446.30" y2="106.50" stroke="#222" stroke-width="1.2"/>
<line x1="461.30" y1="86.40" x2="461.30" y2="106.00" stroke="#222" stroke-width="1.2"/>
<line x1="498.80" y1="92.70" x2="498.80" y2="111.50" stroke="#222" stroke-width="1.2"/>
<line x1="527.90" y1="72.80" x2="527.90" y2="84.80" stroke="#222" stroke-width="1.2"/>
<line x1="557.30" y1="72.80" x2="557.30" y2="85.20" stroke="#222" stroke-width="1.2"/>
<line x1="616.70" y1="69.60" x2="616.70" y2="79.70" stroke="#222" stroke-width="1.2"/>
<line x1="676.00" y1="69.10" x2="676.00" y2="76.50" stroke="#222" stroke-width="1.2"/>
<circle cx="423.30" cy="60.20" r="2.3" fill="#fff" stroke="#111" stroke-width="1.2"/>
<circle cx="436.40" cy="67.40" r="2.3" fill="#fff" stroke="#111" stroke-width="1.2"/>
<circle cx="446.30" cy="75.30" r="2.3" fill="#fff" stroke="#111" stroke-width="1.2"/>
<circle cx="461.30" cy="73.80" r="2.3" fill="#fff" stroke="#111" stroke-width="1.2"/>
<circle cx="498.80" cy="68.70" r="2.3" fill="#fff" stroke="#111" stroke-width="1.2"/>
<circle cx="527.90" cy="64.50" r="2.3" fill="#fff" stroke="#111" stroke-width="1.2"/>
<circle cx="557.30" cy="64.50" r="2.3" fill="#fff" stroke="#111" stroke-width="1.2"/>
<circle cx="616.70" cy="62.10" r="2.3" fill="#fff" stroke="#111" stroke-width="1.2"/>
<circle cx="676.00" cy="66.50" r="2.3" fill="#fff" stroke="#111" stroke-width="1.2"/>
<circle cx="423.30" cy="60.20" r="2.8" fill="#111"/>
<circle cx="436.40" cy="84.90" r="2.8" fill="#111"/>
<circle cx="446.30" cy="86.70" r="2.8" fill="#111"/>
<circle cx="461.30" cy="86.40" r="2.8" fill="#111"/>
<circle cx="498.80" cy="92.70" r="2.8" fill="#111"/>
<circle cx="527.90" cy="72.80" r="2.8" fill="#111"/>
<circle cx="557.30" cy="72.80" r="2.8" fill="#111"/>
<circle cx="616.70" cy="69.60" r="2.8" fill="#111"/>
<circle cx="676.00" cy="69.10" r="2.8" fill="#111"/>
<polygon points="436.40,56.30 437.09,57.45 438.40,57.75 437.52,58.76 437.63,60.10 436.40,59.58 435.17,60.10 435.28,58.76 434.40,57.75 435.71,57.45" fill="#111" stroke="#111" stroke-width="0.3" stroke-linejoin="round"/>
<polygon points="446.30,64.00 446.99,65.15 448.30,65.45 447.42,66.46 447.53,67.80 446.30,67.28 445.07,67.80 445.18,66.46 444.30,65.45 445.61,65.15" fill="#111" stroke="#111" stroke-width="0.3" stroke-linejoin="round"/>
<polygon points="461.30,64.00 461.99,65.15 463.30,65.45 462.42,66.46 462.53,67.80 461.30,67.28 460.07,67.80 460.18,66.46 459.30,65.45 460.61,65.15" fill="#111" stroke="#111" stroke-width="0.3" stroke-linejoin="round"/>
<polygon points="498.80,60.30 499.49,61.45 500.80,61.75 499.92,62.76 500.03,64.10 498.80,63.58 497.57,64.10 497.68,62.76 496.80,61.75 498.11,61.45" fill="#111" stroke="#111" stroke-width="0.3" stroke-linejoin="round"/>
<polygon points="436.40,106.30 437.09,107.45 438.40,107.75 437.52,108.76 437.63,110.10 436.40,109.58 435.17,110.10 435.28,108.76 434.40,107.75 435.71,107.45" fill="#111" stroke="#111" stroke-width="0.3" stroke-linejoin="round"/>
<polygon points="446.30,107.10 446.99,108.25 448.30,108.55 447.42,109.56 447.53,110.90 446.30,110.38 445.07,110.90 445.18,109.56 444.30,108.55 445.61,108.25" fill="#111" stroke="#111" stroke-width="0.3" stroke-linejoin="round"/>
<polygon points="461.30,106.50 461.99,107.65 463.30,107.95 462.42,108.96 462.53,110.30 461.30,109.78 460.07,110.30 460.18,108.96 459.30,107.95 460.61,107.65" fill="#111" stroke="#111" stroke-width="0.3" stroke-linejoin="round"/>
<path d="M423.30,134.40 L436.40,152.70 L446.30,168.20 L461.30,167.00 L498.80,162.20 L527.90,144.60 L557.30,144.60 L616.70,141.40 L676.00,141.40" fill="none" stroke="#111" stroke-width="1.25"/>
<path d="M423.30,134.40 L436.40,157.60 L446.30,168.20 L461.30,154.10 L498.80,148.60 L527.90,148.90 L557.30,148.90 L616.70,141.40 L676.00,139.70" fill="none" stroke="#111" stroke-width="1.25"/>
<line x1="436.40" y1="152.70" x2="436.40" y2="148.10" stroke="#222" stroke-width="1.2"/>
<line x1="461.30" y1="167.00" x2="461.30" y2="171.30" stroke="#222" stroke-width="1.2"/>
<line x1="498.80" y1="162.20" x2="498.80" y2="166.50" stroke="#222" stroke-width="1.2"/>
<line x1="436.40" y1="157.60" x2="436.40" y2="164.60" stroke="#222" stroke-width="1.2"/>
<line x1="446.30" y1="168.20" x2="446.30" y2="164.00" stroke="#222" stroke-width="1.2"/>
<line x1="446.30" y1="168.20" x2="446.30" y2="173.70" stroke="#222" stroke-width="1.2"/>
<line x1="461.30" y1="154.10" x2="461.30" y2="146.30" stroke="#222" stroke-width="1.2"/>
<line x1="498.80" y1="148.60" x2="498.80" y2="139.70" stroke="#222" stroke-width="1.2"/>
<circle cx="423.30" cy="134.40" r="2.3" fill="#fff" stroke="#111" stroke-width="1.2"/>
<circle cx="436.40" cy="152.70" r="2.3" fill="#fff" stroke="#111" stroke-width="1.2"/>
<circle cx="446.30" cy="168.20" r="2.3" fill="#fff" stroke="#111" stroke-width="1.2"/>
<circle cx="461.30" cy="167.00" r="2.3" fill="#fff" stroke="#111" stroke-width="1.2"/>
<circle cx="498.80" cy="162.20" r="2.3" fill="#fff" stroke="#111" stroke-width="1.2"/>
<circle cx="616.70" cy="141.40" r="2.3" fill="#fff" stroke="#111" stroke-width="1.2"/>
<circle cx="676.00" cy="141.40" r="2.3" fill="#fff" stroke="#111" stroke-width="1.2"/>
<circle cx="423.30" cy="134.40" r="2.8" fill="#111"/>
<circle cx="436.40" cy="157.60" r="2.8" fill="#111"/>
<circle cx="446.30" cy="168.20" r="2.8" fill="#111"/>
<circle cx="461.30" cy="154.10" r="2.8" fill="#111"/>
<circle cx="498.80" cy="148.60" r="2.8" fill="#111"/>
<circle cx="527.90" cy="148.90" r="2.8" fill="#111"/>
<circle cx="557.30" cy="148.90" r="2.8" fill="#111"/>
<circle cx="616.70" cy="141.40" r="2.8" fill="#111"/>
<circle cx="676.00" cy="139.70" r="2.8" fill="#111"/>
<circle cx="527.90" cy="144.60" r="2.3" fill="#fff" stroke="#111" stroke-width="1.2"/>
<circle cx="557.30" cy="144.60" r="2.3" fill="#fff" stroke="#111" stroke-width="1.2"/>
<polygon points="436.40,142.00 437.09,143.15 438.40,143.45 437.52,144.46 437.63,145.80 436.40,145.28 435.17,145.80 435.28,144.46 434.40,143.45 435.71,143.15" fill="#111" stroke="#111" stroke-width="0.3" stroke-linejoin="round"/>
<polygon points="446.30,157.80 446.99,158.95 448.30,159.25 447.42,160.26 447.53,161.60 446.30,161.08 445.07,161.60 445.18,160.26 444.30,159.25 445.61,158.95" fill="#111" stroke="#111" stroke-width="0.3" stroke-linejoin="round"/>
<polygon points="461.30,174.50 461.99,175.65 463.30,175.95 462.42,176.96 462.53,178.30 461.30,177.78 460.07,178.30 460.18,176.96 459.30,175.95 460.61,175.65" fill="#111" stroke="#111" stroke-width="0.3" stroke-linejoin="round"/>
<polygon points="498.80,170.40 499.49,171.55 500.80,171.85 499.92,172.86 500.03,174.20 498.80,173.68 497.57,174.20 497.68,172.86 496.80,171.85 498.11,171.55" fill="#111" stroke="#111" stroke-width="0.3" stroke-linejoin="round"/>
<polygon points="527.90,138.00 528.59,139.15 529.90,139.45 529.02,140.46 529.13,141.80 527.90,141.28 526.67,141.80 526.78,140.46 525.90,139.45 527.21,139.15" fill="#111" stroke="#111" stroke-width="0.3" stroke-linejoin="round"/>
<polygon points="557.30,138.00 557.99,139.15 559.30,139.45 558.42,140.46 558.53,141.80 557.30,141.28 556.07,141.80 556.18,140.46 555.30,139.45 556.61,139.15" fill="#111" stroke="#111" stroke-width="0.3" stroke-linejoin="round"/>
<polygon points="436.40,168.40 437.09,169.55 438.40,169.85 437.52,170.86 437.63,172.20 436.40,171.68 435.17,172.20 435.28,170.86 434.40,169.85 435.71,169.55" fill="#111" stroke="#111" stroke-width="0.3" stroke-linejoin="round"/>
<polygon points="446.30,176.50 446.99,177.65 448.30,177.95 447.42,178.96 447.53,180.30 446.30,179.78 445.07,180.30 445.18,178.96 444.30,177.95 445.61,177.65" fill="#111" stroke="#111" stroke-width="0.3" stroke-linejoin="round"/>
<polygon points="461.30,139.70 461.99,140.85 463.30,141.15 462.42,142.16 462.53,143.50 461.30,142.98 460.07,143.50 460.18,142.16 459.30,141.15 460.61,140.85" fill="#111" stroke="#111" stroke-width="0.3" stroke-linejoin="round"/>
<polygon points="498.80,134.50 499.49,135.65 500.80,135.95 499.92,136.96 500.03,138.30 498.80,137.78 497.57,138.30 497.68,136.96 496.80,135.95 498.11,135.65" fill="#111" stroke="#111" stroke-width="0.3" stroke-linejoin="round"/>
<polygon points="527.90,155.60 528.59,156.75 529.90,157.05 529.02,158.06 529.13,159.40 527.90,158.88 526.67,159.40 526.78,158.06 525.90,157.05 527.21,156.75" fill="#111" stroke="#111" stroke-width="0.3" stroke-linejoin="round"/>
<polygon points="557.30,155.60 557.99,156.75 559.30,157.05 558.42,158.06 558.53,159.40 557.30,158.88 556.07,159.40 556.18,158.06 555.30,157.05 556.61,156.75" fill="#111" stroke="#111" stroke-width="0.3" stroke-linejoin="round"/>
<polygon points="616.70,147.00 617.39,148.15 618.70,148.45 617.82,149.46 617.93,150.80 616.70,150.28 615.47,150.80 615.58,149.46 614.70,148.45 616.01,148.15" fill="#111" stroke="#111" stroke-width="0.3" stroke-linejoin="round"/>
<path d="M423.30,243.60 L436.40,238.30 L446.30,236.60 L461.30,228.90 L498.80,227.20 L527.90,247.10 L557.30,237.90 L616.70,239.50 L676.00,238.40" fill="none" stroke="#111" stroke-width="1.25"/>
<path d="M423.30,243.60 L436.40,232.60 L446.30,229.60 L461.30,236.30 L498.80,239.60 L527.90,232.80 L557.30,234.00 L616.70,239.50 L676.00,243.10" fill="none" stroke="#111" stroke-width="1.25"/>
<line x1="436.40" y1="238.30" x2="436.40" y2="243.50" stroke="#222" stroke-width="1.2"/>
<line x1="446.30" y1="236.60" x2="446.30" y2="241.60" stroke="#222" stroke-width="1.2"/>
<line x1="461.30" y1="228.90" x2="461.30" y2="224.00" stroke="#222" stroke-width="1.2"/>
<line x1="498.80" y1="227.20" x2="498.80" y2="219.20" stroke="#222" stroke-width="1.2"/>
<line x1="527.90" y1="247.10" x2="527.90" y2="254.40" stroke="#222" stroke-width="1.2"/>
<line x1="557.30" y1="237.90" x2="557.30" y2="242.70" stroke="#222" stroke-width="1.2"/>
<line x1="676.00" y1="238.40" x2="676.00" y2="234.60" stroke="#222" stroke-width="1.2"/>
<line x1="436.40" y1="232.60" x2="436.40" y2="229.60" stroke="#222" stroke-width="1.2"/>
<line x1="446.30" y1="229.60" x2="446.30" y2="226.20" stroke="#222" stroke-width="1.2"/>
<line x1="498.80" y1="239.60" x2="498.80" y2="243.60" stroke="#222" stroke-width="1.2"/>
<line x1="527.90" y1="232.80" x2="527.90" y2="224.80" stroke="#222" stroke-width="1.2"/>
<line x1="557.30" y1="234.00" x2="557.30" y2="226.60" stroke="#222" stroke-width="1.2"/>
<line x1="616.70" y1="239.50" x2="616.70" y2="232.20" stroke="#222" stroke-width="1.2"/>
<line x1="616.70" y1="239.50" x2="616.70" y2="246.20" stroke="#222" stroke-width="1.2"/>
<line x1="676.00" y1="243.10" x2="676.00" y2="248.50" stroke="#222" stroke-width="1.2"/>
<circle cx="423.30" cy="243.60" r="2.3" fill="#fff" stroke="#111" stroke-width="1.2"/>
<circle cx="436.40" cy="238.30" r="2.3" fill="#fff" stroke="#111" stroke-width="1.2"/>
<circle cx="446.30" cy="236.60" r="2.3" fill="#fff" stroke="#111" stroke-width="1.2"/>
<circle cx="461.30" cy="228.90" r="2.3" fill="#fff" stroke="#111" stroke-width="1.2"/>
<circle cx="498.80" cy="227.20" r="2.3" fill="#fff" stroke="#111" stroke-width="1.2"/>
<circle cx="527.90" cy="247.10" r="2.3" fill="#fff" stroke="#111" stroke-width="1.2"/>
<circle cx="557.30" cy="237.90" r="2.3" fill="#fff" stroke="#111" stroke-width="1.2"/>
<circle cx="616.70" cy="239.50" r="2.3" fill="#fff" stroke="#111" stroke-width="1.2"/>
<circle cx="676.00" cy="238.40" r="2.3" fill="#fff" stroke="#111" stroke-width="1.2"/>
<circle cx="423.30" cy="243.60" r="2.8" fill="#111"/>
<circle cx="436.40" cy="232.60" r="2.8" fill="#111"/>
<circle cx="446.30" cy="229.60" r="2.8" fill="#111"/>
<circle cx="461.30" cy="236.30" r="2.8" fill="#111"/>
<circle cx="498.80" cy="239.60" r="2.8" fill="#111"/>
<circle cx="527.90" cy="232.80" r="2.8" fill="#111"/>
<circle cx="557.30" cy="234.00" r="2.8" fill="#111"/>
<circle cx="616.70" cy="239.50" r="2.8" fill="#111"/>
<circle cx="676.00" cy="243.10" r="2.8" fill="#111"/>
<path d="M423.30,328.40 L436.40,313.80 L446.30,297.60 L461.30,307.00 L498.80,315.00 L527.90,329.60 L557.30,326.00 L616.70,327.00 L676.00,329.10" fill="none" stroke="#111" stroke-width="1.25"/>
<path d="M423.30,328.40 L436.40,311.20 L446.30,305.90 L461.30,322.90 L498.80,329.60 L527.90,327.20 L557.30,327.40 L616.70,331.30 L676.00,329.10" fill="none" stroke="#111" stroke-width="1.25"/>
<line x1="436.40" y1="313.80" x2="436.40" y2="317.40" stroke="#222" stroke-width="1.2"/>
<line x1="446.30" y1="297.60" x2="446.30" y2="290.80" stroke="#222" stroke-width="1.2"/>
<line x1="461.30" y1="307.00" x2="461.30" y2="299.30" stroke="#222" stroke-width="1.2"/>
<line x1="498.80" y1="315.00" x2="498.80" y2="306.30" stroke="#222" stroke-width="1.2"/>
<line x1="436.40" y1="311.20" x2="436.40" y2="307.20" stroke="#222" stroke-width="1.2"/>
<circle cx="423.30" cy="328.40" r="2.3" fill="#fff" stroke="#111" stroke-width="1.2"/>
<circle cx="436.40" cy="313.80" r="2.3" fill="#fff" stroke="#111" stroke-width="1.2"/>
<circle cx="446.30" cy="297.60" r="2.3" fill="#fff" stroke="#111" stroke-width="1.2"/>
<circle cx="461.30" cy="307.00" r="2.3" fill="#fff" stroke="#111" stroke-width="1.2"/>
<circle cx="498.80" cy="315.00" r="2.3" fill="#fff" stroke="#111" stroke-width="1.2"/>
<circle cx="527.90" cy="329.60" r="2.3" fill="#fff" stroke="#111" stroke-width="1.2"/>
<circle cx="557.30" cy="326.00" r="2.3" fill="#fff" stroke="#111" stroke-width="1.2"/>
<circle cx="616.70" cy="327.00" r="2.3" fill="#fff" stroke="#111" stroke-width="1.2"/>
<circle cx="676.00" cy="329.10" r="2.3" fill="#fff" stroke="#111" stroke-width="1.2"/>
<circle cx="423.30" cy="328.40" r="2.8" fill="#111"/>
<circle cx="436.40" cy="311.20" r="2.8" fill="#111"/>
<circle cx="446.30" cy="305.90" r="2.8" fill="#111"/>
<circle cx="461.30" cy="322.90" r="2.8" fill="#111"/>
<circle cx="498.80" cy="329.60" r="2.8" fill="#111"/>
<circle cx="527.90" cy="327.20" r="2.8" fill="#111"/>
<circle cx="557.30" cy="327.40" r="2.8" fill="#111"/>
<circle cx="616.70" cy="331.30" r="2.8" fill="#111"/>
<circle cx="676.00" cy="329.10" r="2.8" fill="#111"/>
<polygon points="436.40,319.70 437.09,320.85 438.40,321.15 437.52,322.16 437.63,323.50 436.40,322.98 435.17,323.50 435.28,322.16 434.40,321.15 435.71,320.85" fill="#111" stroke="#111" stroke-width="0.3" stroke-linejoin="round"/>
<polygon points="446.30,285.30 446.99,286.45 448.30,286.75 447.42,287.76 447.53,289.10 446.30,288.58 445.07,289.10 445.18,287.76 444.30,286.75 445.61,286.45" fill="#111" stroke="#111" stroke-width="0.3" stroke-linejoin="round"/>
<polygon points="461.30,292.90 461.99,294.05 463.30,294.35 462.42,295.36 462.53,296.70 461.30,296.18 460.07,296.70 460.18,295.36 459.30,294.35 460.61,294.05" fill="#111" stroke="#111" stroke-width="0.3" stroke-linejoin="round"/>
<polygon points="436.40,302.10 437.09,303.25 438.40,303.55 437.52,304.56 437.63,305.90 436.40,305.38 435.17,305.90 435.28,304.56 434.40,303.55 435.71,303.25" fill="#111" stroke="#111" stroke-width="0.3" stroke-linejoin="round"/>
<polygon points="446.30,311.40 446.99,312.55 448.30,312.85 447.42,313.86 447.53,315.20 446.30,314.68 445.07,315.20 445.18,313.86 444.30,312.85 445.61,312.55" fill="#111" stroke="#111" stroke-width="0.3" stroke-linejoin="round"/>
<path d="M423.30,410.10 L436.40,399.00 L446.30,372.00 L461.30,361.60 L498.80,360.90 L527.90,397.20 L557.30,398.20 L616.70,397.40 L676.00,402.00" fill="none" stroke="#111" stroke-width="1.25"/>
<path d="M423.30,410.10 L436.40,402.80 L446.30,378.90 L461.30,393.20 L498.80,399.60 L527.90,400.80 L557.30,402.50 L616.70,406.80 L676.00,410.60" fill="none" stroke="#111" stroke-width="1.25"/>
<line x1="436.40" y1="402.80" x2="436.40" y2="407.30" stroke="#222" stroke-width="1.2"/>
<line x1="446.30" y1="378.90" x2="446.30" y2="387.60" stroke="#222" stroke-width="1.2"/>
<line x1="461.30" y1="393.20" x2="461.30" y2="399.50" stroke="#222" stroke-width="1.2"/>
<line x1="498.80" y1="399.60" x2="498.80" y2="405.00" stroke="#222" stroke-width="1.2"/>
<circle cx="423.30" cy="410.10" r="2.3" fill="#fff" stroke="#111" stroke-width="1.2"/>
<circle cx="436.40" cy="399.00" r="2.3" fill="#fff" stroke="#111" stroke-width="1.2"/>
<circle cx="446.30" cy="372.00" r="2.3" fill="#fff" stroke="#111" stroke-width="1.2"/>
<circle cx="461.30" cy="361.60" r="2.3" fill="#fff" stroke="#111" stroke-width="1.2"/>
<circle cx="498.80" cy="360.90" r="2.3" fill="#fff" stroke="#111" stroke-width="1.2"/>
<circle cx="527.90" cy="397.20" r="2.3" fill="#fff" stroke="#111" stroke-width="1.2"/>
<circle cx="557.30" cy="398.20" r="2.3" fill="#fff" stroke="#111" stroke-width="1.2"/>
<circle cx="616.70" cy="397.40" r="2.3" fill="#fff" stroke="#111" stroke-width="1.2"/>
<circle cx="676.00" cy="402.00" r="2.3" fill="#fff" stroke="#111" stroke-width="1.2"/>
<circle cx="423.30" cy="410.10" r="2.8" fill="#111"/>
<circle cx="436.40" cy="402.80" r="2.8" fill="#111"/>
<circle cx="446.30" cy="378.90" r="2.8" fill="#111"/>
<circle cx="461.30" cy="393.20" r="2.8" fill="#111"/>
<circle cx="498.80" cy="399.60" r="2.8" fill="#111"/>
<circle cx="527.90" cy="400.80" r="2.8" fill="#111"/>
<circle cx="557.30" cy="402.50" r="2.8" fill="#111"/>
<circle cx="616.70" cy="406.80" r="2.8" fill="#111"/>
<circle cx="676.00" cy="410.60" r="2.8" fill="#111"/>
<polygon points="436.40,390.70 437.09,391.85 438.40,392.15 437.52,393.16 437.63,394.50 436.40,393.98 435.17,394.50 435.28,393.16 434.40,392.15 435.71,391.85" fill="#111" stroke="#111" stroke-width="0.3" stroke-linejoin="round"/>
<polygon points="446.30,363.20 446.99,364.35 448.30,364.65 447.42,365.66 447.53,367.00 446.30,366.48 445.07,367.00 445.18,365.66 444.30,364.65 445.61,364.35" fill="#111" stroke="#111" stroke-width="0.3" stroke-linejoin="round"/>
<polygon points="461.30,353.50 461.99,354.65 463.30,354.95 462.42,355.96 462.53,357.30 461.30,356.78 460.07,357.30 460.18,355.96 459.30,354.95 460.61,354.65" fill="#111" stroke="#111" stroke-width="0.3" stroke-linejoin="round"/>
<polygon points="498.80,353.70 499.49,354.85 500.80,355.15 499.92,356.16 500.03,357.50 498.80,356.98 497.57,357.50 497.68,356.16 496.80,355.15 498.11,354.85" fill="#111" stroke="#111" stroke-width="0.3" stroke-linejoin="round"/>
<polygon points="527.90,386.40 528.59,387.55 529.90,387.85 529.02,388.86 529.13,390.20 527.90,389.68 526.67,390.20 526.78,388.86 525.90,387.85 527.21,387.55" fill="#111" stroke="#111" stroke-width="0.3" stroke-linejoin="round"/>
<polygon points="557.30,390.20 557.99,391.35 559.30,391.65 558.42,392.66 558.53,394.00 557.30,393.48 556.07,394.00 556.18,392.66 555.30,391.65 556.61,391.35" fill="#111" stroke="#111" stroke-width="0.3" stroke-linejoin="round"/>
<polygon points="616.70,388.80 617.39,389.95 618.70,390.25 617.82,391.26 617.93,392.60 616.70,392.08 615.47,392.60 615.58,391.26 614.70,390.25 616.01,389.95" fill="#111" stroke="#111" stroke-width="0.3" stroke-linejoin="round"/>
<polygon points="446.30,389.70 446.99,390.85 448.30,391.15 447.42,392.16 447.53,393.50 446.30,392.98 445.07,393.50 445.18,392.16 444.30,391.15 445.61,390.85" fill="#111" stroke="#111" stroke-width="0.3" stroke-linejoin="round"/>
</svg>
</body></html>
